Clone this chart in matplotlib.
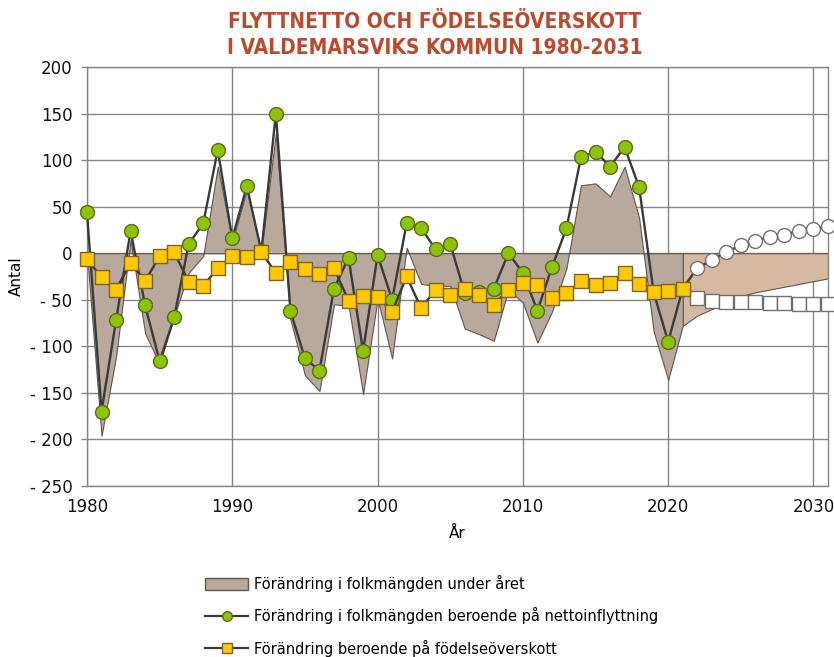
import matplotlib
matplotlib.use("Agg")
import matplotlib.pyplot as plt
from matplotlib.patches import Patch
from matplotlib.lines import Line2D

# ---------------- data ----------------
years_hist = list(range(1980, 2022))
net_migration = [44, -170, -72, 24, -56, -116, -69, 10, 32, 111,
                 16, 72, 2, 150, -62, -113, -126, -38, -5, -105,
                 -2, -50, 32, 27, 4, 10, -43, -42, -38, 0,
                 -21, -62, -15, 27, 103, 109, 93, 114, 71, -42,
                 -95, -38]
birth_surplus = [-6, -26, -39, -10, -30, -3, 1, -31, -35, -16,
                 -3, -4, 1, -21, -9, -17, -22, -16, -51, -46,
                 -47, -63, -25, -59, -39, -45, -38, -45, -56, -39,
                 -32, -34, -48, -43, -30, -34, -32, -21, -33, -42,
                 -41, -38]
total_change = [0, -196, -111, 14, -86, -119, -68, -21, -3, 93,
                13, 68, 2, 129, -71, -131, -148, -55, -56, -151,
                -49, -113, 6, -33, -35, -35, -81, -87, -94, -39,
                -53, -96, -63, -16, 73, 75, 61, 93, 38, -84,
                -136, -78]

years_fc = list(range(2021, 2032))
fc_net_migration = [-38, -16, -7.5, 1, 9, 13, 17.5, 20, 24, 26.5, 29]
fc_birth_surplus = [-38, -48, -51, -52, -52, -52, -53, -53, -54, -54, -55]
fc_total_change = [-78, -67, -60, -54, -46, -42, -39, -36, -33, -30, -27]

y_ticks = [200, 150, 100, 50, 0, -50, -100, -150, -200, -250]
y_tick_labels = ["200", "150", "100", "50", "0", "- 50", "- 100", "- 150", "- 200", "- 250"]
x_ticks = [1980, 1990, 2000, 2010, 2020, 2030]

title = "FLYTTNETTO OCH FÖDELSEÖVERSKOTT\nI VALDEMARSVIKS KOMMUN 1980-2031"
legend_labels = ["Förändring i folkmängden under året",
                 "Förändring i folkmängden beroende på nettoinflyttning",
                 "Förändring beroende på födelseöverskott"]

# ---------------- style ----------------
plt.rcParams["font.family"] = ["DejaVu Sans"]

area_col = "#b8a99c"
area_edge = "#5f5650"
fc_area_col = "#d5b9a0"
green = "#8dc400"
yellow = "#ffc800"
line_col = "#3a3a3a"
grid_col = "#858585"

fig = plt.figure(figsize=(8.34, 6.57), dpi=100)
ax = fig.add_axes([87 / 834, 1 - 486 / 657, (828 - 87) / 834, (486 - 67) / 657])

# grid
for yv in y_ticks:
    ax.axhline(yv, color=grid_col, lw=1.0, zorder=0.5)
for xv in x_ticks:
    ax.axvline(xv, color=grid_col, lw=1.0, zorder=0.5)

# areas
ax.fill_between(years_fc, fc_total_change, 0, facecolor=fc_area_col,
                edgecolor=area_edge, lw=0.8, zorder=1)
ax.fill_between(years_hist, total_change, 0, facecolor=area_col,
                edgecolor=area_edge, lw=0.8, zorder=1.1)

# net migration lines
ax.plot(years_fc, fc_net_migration, color=line_col, lw=1.7, marker="o",
        markersize=10, markerfacecolor="white", markeredgecolor="#707070",
        markeredgewidth=1.0, markevery=list(range(1, len(years_fc))),
        zorder=3, clip_on=False)
ax.plot(years_hist, net_migration, color=line_col, lw=1.7, marker="o",
        markersize=10, markerfacecolor=green, markeredgecolor="#5b6b1f",
        markeredgewidth=1.0, zorder=3.1, clip_on=False)

# birth surplus lines
ax.plot(years_fc, fc_birth_surplus, color=line_col, lw=1.7, marker="s",
        markersize=10, markerfacecolor="white", markeredgecolor="#707070",
        markeredgewidth=1.0, markevery=list(range(1, len(years_fc))),
        zorder=4, clip_on=False)
ax.plot(years_hist, birth_surplus, color=line_col, lw=1.7, marker="s",
        markersize=10, markerfacecolor=yellow, markeredgecolor="#7a6428",
        markeredgewidth=1.0, zorder=4.1, clip_on=False)

ax.set_xlim(1980, 2031)
ax.set_ylim(-250, 200)
ax.set_yticks(y_ticks)
ax.set_yticklabels(y_tick_labels)
ax.set_xticks(x_ticks)
ax.set_xticklabels([str(x) for x in x_ticks])

for lab in ax.get_yticklabels() + ax.get_xticklabels():
    lab.set_fontsize(12)
    lab.set_color("#111111")

ax.tick_params(axis="y", direction="out", length=4.5, width=1, color=grid_col, pad=6)
ax.tick_params(axis="x", length=0, pad=9)
for s in ax.spines.values():
    s.set_color(grid_col)
    s.set_linewidth(1.0)

ax.set_ylabel("Antal", fontsize=11, labelpad=4)
ax.set_xlabel("År", fontsize=11, labelpad=7)

fig.text(0.521, 1 - 12 / 657, title, ha="center", va="top", fontsize=15,
         fontweight="bold", fontstretch="condensed", color="#b84a2e",
         linespacing=1.38)

handles = [
    Patch(facecolor=area_col, edgecolor=area_edge, lw=1.0),
    Line2D([], [], color=line_col, lw=1.6, marker="o", markersize=7,
           markerfacecolor=green, markeredgecolor="#5b6b1f"),
    Line2D([], [], color=line_col, lw=1.6, marker="s", markersize=7,
           markerfacecolor=yellow, markeredgecolor="#7a6428"),
]
fig.legend(handles, legend_labels, loc="upper left",
           bbox_to_anchor=(205 / 834, 1 - 575 / 657), frameon=False,
           fontsize=10.5, handlelength=2.95, handleheight=0.8,
           handletextpad=0.41, labelspacing=1.05, borderaxespad=0,
           borderpad=0)

fig.savefig("out.png", dpi=100)
